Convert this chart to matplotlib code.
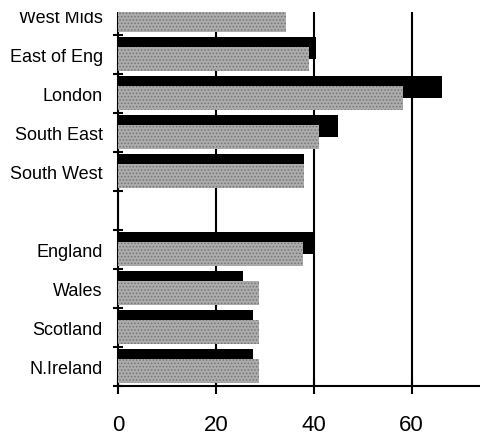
import numpy as np
import matplotlib
matplotlib.use('Agg')
import matplotlib.pyplot as plt
from matplotlib.patches import Rectangle

# top to bottom, blank slot between regions and countries
labels = ['West Mids', 'East of Eng', 'London', 'South East', 'South West', '',
          'England', 'Wales', 'Scotland', 'N.Ireland']
black_vals = [33, 40.4, 66.3, 45, 38, np.nan, 40, 25.6, 27.5, 27.5]
grey_vals = [34.3, 39, 58.2, 41, 38, np.nan, 37.8, 28.9, 28.9, 28.8]
xticks = [0, 20, 40, 60]

plt.rcParams['font.family'] = ['Liberation Sans', 'DejaVu Sans']
plt.rcParams['hatch.linewidth'] = 0.7

fig = plt.figure(figsize=(4.8, 4.39), dpi=100)
ax = fig.add_axes([118 / 480, 52 / 439, 1 - 118 / 480, (387 - 13) / 439])

y = np.arange(len(labels))[::-1]
ax.barh(y + 0.17, black_vals, height=0.58, color='black', zorder=2)
ax.barh(y - 0.11, grey_vals, height=0.62, facecolor='#acacac', edgecolor='#747474',
        hatch='.....', linewidth=0, zorder=3)

ax.set_xlim(0, 74)
ax.set_ylim(-0.5, 9.09)

# slot boundaries get the tick marks, slot centres get the names
ax.set_yticks(np.arange(-0.5, len(labels) - 1, 1.0))
ax.set_yticklabels([])
ax.set_yticks(y, minor=True)
ax.set_yticklabels(labels, minor=True, fontsize=13)
ax.tick_params(axis='y', which='major', direction='inout', length=7, width=1.5)
ax.tick_params(axis='y', which='minor', length=0, pad=11)

ax.set_xticks(xticks)
ax.set_xticklabels([str(t) for t in xticks], fontsize=16)
ax.tick_params(axis='x', direction='inout', length=12, width=1.5, pad=14)

ax.grid(axis='x', color='black', linewidth=1.5)
ax.set_axisbelow(True)
for s in ['top', 'right']:
    ax.spines[s].set_visible(False)
for s in ['left', 'bottom']:
    ax.spines[s].set_linewidth(1.5)

# the scan is cut off at the top
fig.add_artist(Rectangle((0, 1 - 13 / 439), 1, 13 / 439, transform=fig.transFigure,
                         facecolor='white', edgecolor='none', zorder=10))

fig.savefig('out.png', dpi=100)
